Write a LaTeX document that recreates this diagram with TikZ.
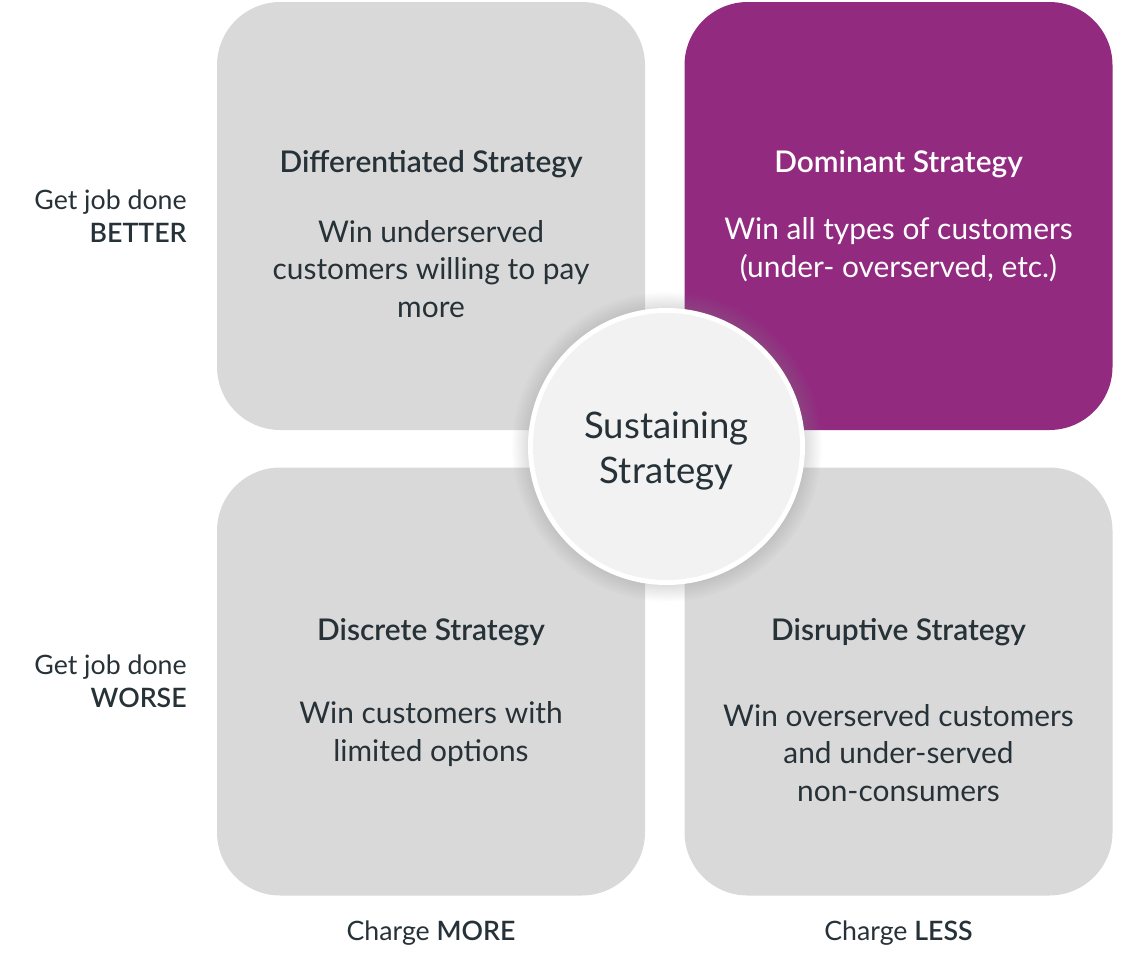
\documentclass[tikz,border=0pt]{standalone}
\usepackage{fontspec}
\setmainfont{Lato}
\IfFontExistsTF{Lato Semibold}
    {\newfontfamily\headface{Lato Semibold}}
    {\newcommand\headface{\bfseries}}
\usetikzlibrary{shadows,fadings}
\definecolor{boxgrey}{HTML}{D9D9D9}
\definecolor{plum}{HTML}{922B80}
\definecolor{ink}{HTML}{263238}
\definecolor{disc}{HTML}{F2F2F2}
\newcommand\titlefont{\fontsize{17}{21}\selectfont\headface}
\newcommand\bodyfont{\fontsize{17}{21.5}\selectfont}
\newcommand\sidefont{\fontsize{15.2}{18.7}\selectfont}
\newcommand\quadbox[4]{
    \node[quad, fill=#4] (#1) at (#2,#3) {};
}
\tikzset{
    quad/.style={rounded corners=36pt, minimum width=428*0.02cm,
        minimum height=428*0.02cm, inner sep=0pt},
    heading/.style={font=\titlefont, text=ink, align=center},
    blurb/.style={font=\bodyfont, text=ink, align=center},
    side/.style={font=\sidefont, text=ink, align=right, anchor=east, inner sep=0pt},
    axis/.style={font=\sidefont, text=ink},
}

\begin{document}
\begin{tikzpicture}[x=0.02cm,y=-0.02cm]
    \useasboundingbox (0,0) rectangle (1136,967);
    \quadbox{diff}{431}{216}{boxgrey}
    \quadbox{dom}{898.5}{216}{plum}
    \quadbox{disc}{431}{681.5}{boxgrey}
    \quadbox{disr}{898.5}{681.5}{boxgrey}

    \node[heading] (difftitle) at (431,164) {Differentiated Strategy};
    \node[blurb] (diffbody) at (431,269) {Win underserved\\customers willing to pay\\more};
    \node[heading, text=white] (domtitle) at (898.5,164) {Dominant Strategy};
    \node[blurb, text=white] (dombody) at (898.5,250) {Win all types of customers\\(under- overserved, etc.)};
    \node[heading] (disctitle) at (431,632) {Discrete Strategy};
    \node[blurb] (discbody) at (431,734) {Win customers with\\limited options};
    \node[heading] (disrtitle) at (898.5,632) {Disruptive Strategy};
    \node[blurb] (disrbody) at (898.5,753) {Win overserved customers\\and under-served\\non-consumers};

    % centre disc
    \node[circle, minimum size=277*0.02cm, fill=white,
        circular drop shadow={shadow xshift=0pt, shadow yshift=0pt,
        shadow scale=1.12, opacity=0.35}] (sus) at (666.5,446.5) {};
    \node[circle, minimum size=267*0.02cm, fill=disc] (susdisc) at (666.5,446.5) {};
    \node[font=\fontsize{20.8}{25.5}\selectfont, text=ink, align=center]
        (sustext) at (666.5,451) {Sustaining\\Strategy};

    \node[side] (better) at (187,216) {Get job done\\{\headface BETTER}};
    \node[side] (worse) at (187,681) {Get job done\\{\headface WORSE}};
    \node[axis] (more) at (431,933) {Charge {\headface MORE}};
    \node[axis] (less) at (898.5,933) {Charge {\headface LESS}};
\end{tikzpicture}
\end{document}
